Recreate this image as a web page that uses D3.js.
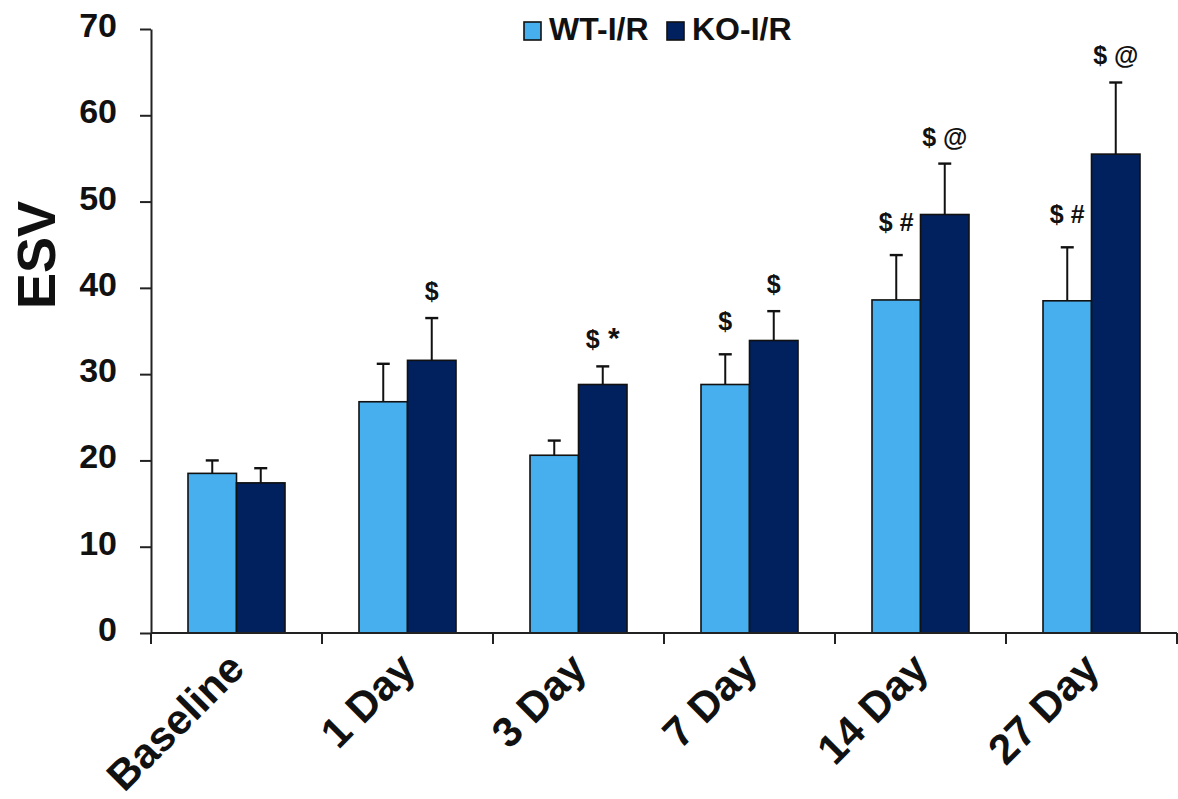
<!DOCTYPE html>
<html>
<head>
<meta charset="utf-8">
<script src="https://cdn.jsdelivr.net/npm/d3@7/dist/d3.min.js"></script>
<style>
  html, body { margin: 0; padding: 0; background: #fff; }
  svg { display: block; }
  text { font-family: "Liberation Sans", Arial, Helvetica, sans-serif; font-weight: bold; fill: #111; }
</style>
</head>
<body>
<svg id="chart" width="1178" height="799"></svg>
<script>
// ---- data ----
const categories = ["Baseline", "1 Day", "3 Day", "7 Day", "14 Day", "27 Day"];
const seriesNames = ["WT-I/R", "KO-I/R"];
const wtValues = [18.5, 26.8, 20.6, 28.8, 38.6, 38.5];
const wtErrors = [1.5, 4.4, 1.7, 3.5, 5.2, 6.2];
const koValues = [17.4, 31.6, 28.8, 33.9, 48.5, 55.5];
const koErrors = [1.7, 4.9, 2.1, 3.4, 5.9, 8.3];
const wtMarks = ["", "", "", "$", "$ #", "$ #"];
const koMarks = ["", "$", "$ *", "$", "$ @", "$ @"];
const yTicks = [0, 10, 20, 30, 40, 50, 60, 70];
const yLabel = "ESV";

// ---- layout ----
const svg = d3.select("#chart");
const colors = { "WT-I/R": "#48AFEE", "KO-I/R": "#00205E" };
const markOffset = { "WT-I/R": 24, "KO-I/R": 18 };

const x = d3.scaleBand().domain(categories).range([151, 1177]).paddingInner(0).paddingOuter(0);
const xs = d3.scaleBand().domain(seriesNames).range([0, x.bandwidth()]).paddingInner(0).paddingOuter(0.763);
const y = d3.scaleLinear().domain([0, 70]).range([633, 29]);

const series = [
  { name: "WT-I/R", values: wtValues, errors: wtErrors, marks: wtMarks },
  { name: "KO-I/R", values: koValues, errors: koErrors, marks: koMarks }
];

const rows = [];
series.forEach(s => categories.forEach((c, i) => rows.push({
  cat: c, name: s.name, v: s.values[i], e: s.errors[i], m: s.marks[i]
})));

// error bars (behind bars)
const eb = svg.append("g");
rows.forEach(d => {
  const cx = x(d.cat) + xs(d.name) + xs.bandwidth() / 2;
  eb.append("line").attr("x1", cx).attr("x2", cx)
    .attr("y1", y(d.v)).attr("y2", y(d.v + d.e))
    .attr("stroke", "#111").attr("stroke-width", 2);
  eb.append("line").attr("x1", cx - 6.5).attr("x2", cx + 6.5)
    .attr("y1", y(d.v + d.e)).attr("y2", y(d.v + d.e))
    .attr("stroke", "#111").attr("stroke-width", 2.4);
});

// bars
svg.append("g").selectAll("rect").data(rows).join("rect")
  .attr("x", d => x(d.cat) + xs(d.name))
  .attr("y", d => y(d.v))
  .attr("width", xs.bandwidth())
  .attr("height", d => y(0) - y(d.v))
  .attr("fill", d => colors[d.name])
  .attr("stroke", "#111")
  .attr("stroke-width", 1.6);

// significance marks
const mk = svg.append("g").selectAll("text").data(rows.filter(d => d.m)).join("text")
  .attr("x", d => x(d.cat) + xs(d.name) + xs.bandwidth() / 2)
  .attr("y", d => y(d.v + d.e) - markOffset[d.name])
  .attr("text-anchor", "middle")
  .attr("font-size", 25)
  .attr("fill", "#222");
mk.each(function(d) {
  const parts = d.m.split(" ");
  const t = d3.select(this);
  t.append("tspan").text(parts[0]);
  if (parts[1]) {
    t.append("tspan").text("\u00a0" + parts[1])
      .attr("font-size", parts[1] === "*" ? 30 : 25);
  }
});

// y axis
const yAxis = d3.axisLeft(y).tickValues(yTicks).tickSize(11).tickSizeOuter(0).tickPadding(23);
const gy = svg.append("g").attr("transform", "translate(151,0)").call(yAxis);
gy.select(".domain").attr("stroke", "#222").attr("stroke-width", 2);
gy.selectAll(".tick line").attr("stroke", "#222").attr("stroke-width", 2);
gy.selectAll(".tick text")
  .attr("font-size", 34).attr("font-family", "Liberation Sans, Arial, sans-serif")
  .attr("font-weight", "bold").attr("fill", "#111").attr("dy", "0.22em");

// x axis
const gx = svg.append("g");
gx.append("line").attr("x1", 151).attr("x2", 1177).attr("y1", y(0)).attr("y2", y(0))
  .attr("stroke", "#222").attr("stroke-width", 2);
const boundaries = categories.map(c => x(c)).concat([x.range()[1]]);
gx.selectAll("line.tk").data(boundaries).join("line").attr("class", "tk")
  .attr("x1", d => d).attr("x2", d => d)
  .attr("y1", y(0)).attr("y2", y(0) + 11)
  .attr("stroke", "#222").attr("stroke-width", 2);
gx.selectAll("text").data(categories).join("text")
  .attr("transform", c => `translate(${x(c) + x.bandwidth() / 2 + 10},${y(0) + 38}) rotate(-45)`)
  .attr("text-anchor", "end")
  .attr("font-size", 42)
  .text(c => c);

// y label
svg.append("text")
  .attr("transform", "translate(55,255) rotate(-90)")
  .attr("text-anchor", "middle")
  .attr("font-size", 54)
  .text(yLabel);

// legend
const legendX = [524, 667];
const lg = svg.append("g");
seriesNames.forEach((n, i) => {
  lg.append("rect").attr("x", legendX[i]).attr("y", 22).attr("width", 17).attr("height", 18)
    .attr("fill", colors[n]).attr("stroke", "#111").attr("stroke-width", 1.6);
  lg.append("text").attr("x", legendX[i] + 25).attr("y", 40).attr("font-size", 32).text(n);
});
</script>
</body>
</html>
